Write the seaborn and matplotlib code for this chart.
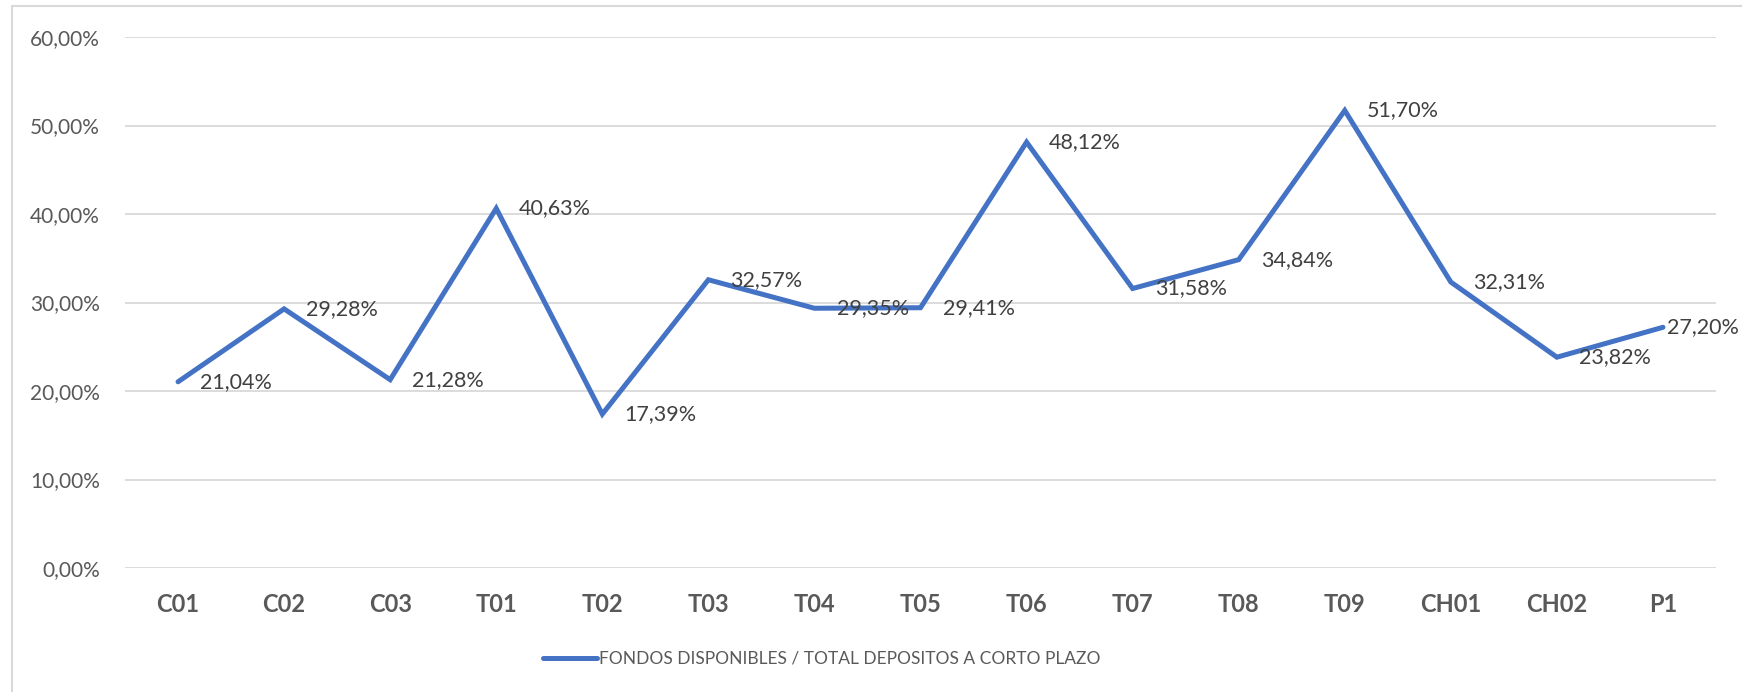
import matplotlib
matplotlib.use("Agg")
import matplotlib.pyplot as plt
import seaborn as sns
import pandas as pd
from matplotlib.patches import Rectangle

categories = ["C01", "C02", "C03", "T01", "T02", "T03", "T04", "T05",
              "T06", "T07", "T08", "T09", "CH01", "CH02", "P1"]
values = [21.04, 29.28, 21.28, 40.63, 17.39, 32.57, 29.35, 29.41,
          48.12, 31.58, 34.84, 51.70, 32.31, 23.82, 27.20]
y_ticks = [0, 10, 20, 30, 40, 50, 60]
series_name = "FONDOS DISPONIBLES / TOTAL DEPOSITOS A CORTO PLAZO"

sns.set_theme(style="white")
plt.rcParams["font.family"] = ["Lato", "DejaVu Sans"]

df = pd.DataFrame({"cat": categories, "val": values, "serie": series_name})
df["x"] = range(len(df))

W, H = 1742, 692
fig = plt.figure(figsize=(W / 100, H / 100), dpi=100)
ax = fig.add_axes([125 / W, 1 - 568 / H, (1716 - 125) / W, (568 - 37) / H])

# Chart-area border
fig.patches.append(Rectangle((12 / W, -0.1), 1.2, 1 - 6 / H + 0.1,
                             transform=fig.transFigure, fill=False,
                             edgecolor="#D9D9D9", linewidth=1.5))

line_color = "#4472C4"
sns.lineplot(data=df, x="x", y="val", hue="serie", palette=[line_color],
             ax=ax, linewidth=3.6, legend=False, solid_capstyle="round",
             solid_joinstyle="miter")

last = len(df) - 1
for xi, v in zip(df["x"], df["val"]):
    dx = 3 if xi == last else 16
    ax.annotate(f"{v:.2f}%".replace(".", ","), (xi, v), xytext=(dx, 0),
                textcoords="offset points", ha="left", va="center",
                fontsize=15.5, color="#404040")

ax.set_xlim(-0.5, len(categories) - 0.5)
ax.set_ylim(0, 60)
ax.set_yticks(y_ticks)
ax.set_yticklabels([f"{t:.2f}%".replace(".", ",") for t in y_ticks],
                   fontsize=15, color="#595959")
ax.set_xticks(list(df["x"]))
ax.set_xticklabels(categories, fontsize=17, fontweight="bold", color="#595959")
ax.tick_params(axis="y", length=0, pad=18)
ax.tick_params(axis="x", length=0, pad=18)
ax.set_xlabel("")
ax.set_ylabel("")
ax.grid(axis="y", color="#D9D9D9", linewidth=1.3)
ax.set_axisbelow(True)
for s in ax.spines.values():
    s.set_visible(False)

handle = plt.Line2D([], [], color=line_color, linewidth=3.6, solid_capstyle="round")
fig.legend([handle], [series_name], loc="center left",
           bbox_to_anchor=(543 / W, 1 - 659 / H), frameon=False,
           fontsize=12.5, labelcolor="#595959", handlelength=3.1,
           handletextpad=0.1, borderpad=0, borderaxespad=0)

fig.savefig("out.png", dpi=100)
